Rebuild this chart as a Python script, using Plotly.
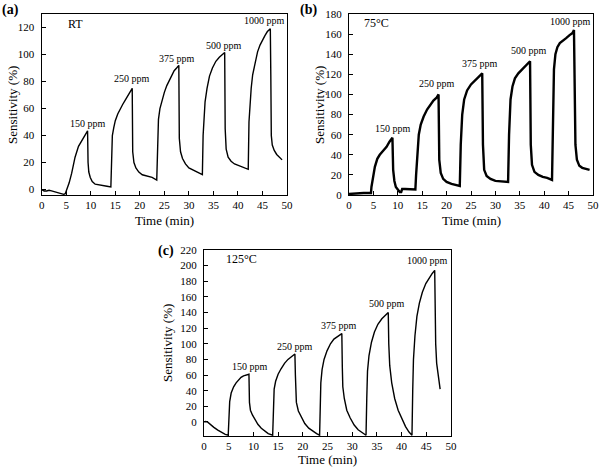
import plotly.graph_objects as go

# ---------------- data ----------------
# Panel (a) RT
time_a = [0, 0.5, 1, 1.5, 2, 2.5, 3, 3.5, 4, 4.5, 4.8,
          5.2, 5.6, 6.1, 6.8, 7.5, 8.0, 8.5, 9.0, 9.35,
          9.45, 9.6, 9.9, 10.3, 10.9, 11.5, 12.5, 13.3, 14.1,
          14.25, 14.4, 14.7, 15.0, 15.5, 16.0, 16.5, 17.0, 17.5, 18.0, 18.45,
          18.55, 18.8, 19.2, 19.8, 20.5, 21.5, 22.5, 23.45,
          23.65, 23.8, 24.1, 24.5, 25.0, 25.5, 26.0, 26.5, 27.0, 27.5, 27.95,
          28.05, 28.3, 28.7, 29.3, 30.0, 31.0, 32.0, 32.75,
          32.9, 33.05, 33.3, 33.7, 34.2, 34.8, 35.5, 36.2, 36.8, 37.3,
          37.4, 37.6, 38.0, 38.6, 39.3, 40.0, 40.8, 41.5, 42.1,
          42.25, 42.4, 42.7, 43.0, 43.5, 44.0, 44.5, 45.0, 45.5, 46.0, 46.6,
          46.7, 46.8, 47.0, 47.4, 47.9, 48.5, 49.0]
sens_a = [0, -1, -1, -0.5, -1, -1.5, -2, -2.5, -3, -3.5, -3,
          1, 5, 12, 24, 32, 35, 38, 41, 43.5,
          20, 13, 9, 6, 4, 3.5, 3, 2.5, 2,
          30, 40, 46, 51, 56, 60, 63, 66, 69, 72, 75,
          28, 20, 16, 13, 11, 10, 9, 7,
          40, 52, 60, 66, 72, 77, 81, 85, 88, 90, 92,
          38, 28, 23, 19, 16, 14, 12, 11,
          40, 55, 65, 75, 84, 90, 95, 98, 100, 101.5,
          45, 30, 24, 21, 19, 18, 17, 16, 15,
          50, 62, 75, 85, 95, 102, 107, 111, 114, 117, 119,
          85, 40, 33, 29, 26, 24, 22]

# Panel (b) 75 °C
time_b = [0, 1, 2, 3, 4, 4.5,
          4.6, 4.9, 5.3, 5.8, 6.3, 7.0, 7.7, 8.3, 8.9,
          9.05, 9.3, 9.6, 10.0, 10.4, 10.7,
          10.9, 11.5, 12.5, 13.6,
          13.75, 14.0, 14.3, 14.7, 15.3, 16.0, 16.7, 17.3, 18.0, 18.35,
          18.5, 18.8, 19.3, 20.0, 21.0, 22.0, 22.7,
          22.9, 23.2, 23.6, 24.2, 25.0, 25.8, 26.6, 27.3,
          27.45, 27.7, 28.2, 29.0, 30.0, 31.0, 32.0, 32.6,
          32.8, 33.1, 33.5, 34.0, 34.7, 35.5, 36.3, 37.1,
          37.25, 37.5, 38.0, 38.8, 39.7, 40.6, 41.6,
          41.8, 42.0, 42.3, 42.7, 43.2, 43.8, 44.5, 45.2, 45.8, 46.1,
          46.2, 46.4, 46.7, 47.2, 47.8, 48.5, 49.3]
sens_b = [1, 1.5, 1.5, 2, 2, 2,
          8, 18, 28, 36, 40, 44, 48, 53, 57,
          25, 14, 8, 5, 3, 3,
          6, 6, 5.5, 5.5,
          20, 40, 60, 70, 78, 85, 90, 94, 97, 100,
          35, 22, 16, 13, 11, 10, 9,
          50, 80, 95, 104, 110, 114, 117, 121,
          50, 25, 19, 16, 14, 13.5, 13, 13,
          60, 95, 108, 116, 121, 125, 129, 133,
          50, 30, 23, 20, 18, 17, 15,
          80, 125, 140, 147, 151, 153, 156, 159, 161, 164,
          90, 50, 35, 29, 27, 26, 25]

# Panel (c) 125 °C
time_c = [0, 0.3, 0.7, 1.2, 2.0, 2.8, 3.6, 4.3, 4.9,
          5.05, 5.2, 5.5, 6.0, 6.5, 7.0, 7.5, 8.0, 8.5, 9.1,
          9.2, 9.4, 9.8, 10.3, 10.9, 11.6, 12.3, 13.0, 13.9,
          14.0, 14.2, 14.5, 15.0, 15.6, 16.3, 17.0, 17.7, 18.4,
          18.5, 18.7, 19.1, 19.7, 20.4, 21.2, 22.0, 22.8, 23.4,
          23.5, 23.65, 23.9, 24.3, 24.9, 25.6, 26.3, 27.1, 27.9,
          28.0, 28.1, 28.4, 28.9, 29.6, 30.4, 31.2, 32.0, 32.8,
          32.95, 33.1, 33.4, 33.9, 34.5, 35.2, 36.0, 36.7, 37.3,
          37.4, 37.6, 38.0, 38.6, 39.3, 40.0, 40.8, 41.5, 42.1,
          42.25, 42.4, 42.7, 43.1, 43.6, 44.2, 44.9, 45.6, 46.2, 46.7,
          46.8, 46.9, 47.1, 47.4, 47.8]
sens_c = [0, 0.5, 0, -3, -7, -10.5, -13.5, -16, -17,
          10, 26, 37, 45, 50, 54, 57, 59, 60, 61,
          25, 15, 9, 3, -3, -8, -12, -15, -17,
          20, 42, 52, 61, 68, 75, 80, 84, 87,
          60, 25, 14, 6, -2, -8, -12, -15, -17,
          20, 50, 67, 80, 91, 100, 106, 110, 113,
          70, 45, 30, 15, 5, -4, -10, -14, -17,
          30, 65, 85, 102, 115, 125, 132, 137, 140,
          100, 72, 50, 30, 15, 4, -6, -13, -17,
          40, 80, 110, 135, 152, 166, 177, 185, 190, 194,
          140, 100, 75, 58, 42]

conc_labels = ["150 ppm", "250 ppm", "375 ppm", "500 ppm", "1000 ppm"]
label_x_a = [9.4, 18.5, 27.5, 37.1, 45.5]
label_y_a = [49, 82, 97, 107, 125]
label_x_b = [9.1, 18.1, 26.9, 36.9, 45.4]
label_y_b = [66, 111, 131, 144, 173]
label_x_c = [9.3, 18.4, 27.3, 37.1, 45.2]
label_y_c = [71, 97, 123, 152, 206]

panel_tags = ["(a)", "(b)", "(c)"]
temps = ["RT", "75°C", "125°C"]

FONT = "Liberation Serif"

fig = go.Figure()
fig.add_trace(go.Scatter(x=time_a, y=sens_a, mode="lines", line=dict(color="black", width=1.4),
                         xaxis="x", yaxis="y", showlegend=False))
fig.add_trace(go.Scatter(x=time_b, y=sens_b, mode="lines", line=dict(color="black", width=2.4),
                         xaxis="x2", yaxis="y2", showlegend=False))
fig.add_trace(go.Scatter(x=time_c, y=sens_c, mode="lines", line=dict(color="black", width=1.4),
                         xaxis="x3", yaxis="y3", showlegend=False))

W, H = 600, 467


def px(x):
    return x / W


def py(y):
    return 1 - y / H


common = dict(showgrid=False, zeroline=False, showline=True, linecolor="black", linewidth=1.3,
              mirror=True, ticks="inside", ticklen=4, tickwidth=1, tickcolor="black",
              automargin=False,
              tickfont=dict(family=FONT, size=11, color="black"))

xt = dict(tickmode="linear", tick0=0, dtick=5, range=[0, 50], ticklabelstandoff=0)

fig.update_layout(
    template="none",
    width=W, height=H, margin=dict(l=0, r=0, t=0, b=0, autoexpand=False),
    paper_bgcolor="white", plot_bgcolor="white",
    font=dict(family=FONT, color="black"),
    xaxis=dict(domain=[px(41.7), px(287)], anchor="y", **xt, **common),
    yaxis=dict(domain=[py(195), py(14)], anchor="x", range=[-4, 130], tickmode="array",
               tickvals=[0, 20, 40, 60, 80, 100, 120], ticklabelstandoff=4, **common),
    xaxis2=dict(domain=[px(349), px(593)], anchor="y2", **xt, **common),
    yaxis2=dict(domain=[py(195), py(14)], anchor="x2", range=[0, 180], tickmode="linear",
                tick0=0, dtick=20, ticklabelstandoff=4, **common),
    xaxis3=dict(domain=[px(204), px(451)], anchor="y3", **xt, **common),
    yaxis3=dict(domain=[py(436), py(250)], anchor="x3", range=[-18, 220], tickmode="linear",
                tick0=0, dtick=20, ticklabelstandoff=4, **common),
)

ann = []
for xs, ys, xr, yr in [(label_x_a, label_y_a, "x", "y"), (label_x_b, label_y_b, "x2", "y2"),
                       (label_x_c, label_y_c, "x3", "y3")]:
    for lab, x, y in zip(conc_labels, xs, ys):
        ann.append(dict(x=x, y=y, xref=xr, yref=yr, text=lab, showarrow=False,
                        font=dict(family=FONT, size=10, color="black"), xanchor="center", yanchor="middle"))

# temperature labels
ann.append(dict(x=6.8, y=122.5, xref="x", yref="y", text=temps[0], showarrow=False,
                font=dict(family=FONT, size=12, color="black")))
ann.append(dict(x=5.7, y=171, xref="x2", yref="y2", text=temps[1], showarrow=False,
                font=dict(family=FONT, size=12, color="black")))
ann.append(dict(x=7.6, y=209, xref="x3", yref="y3", text=temps[2], showarrow=False,
                font=dict(family=FONT, size=12, color="black")))

# panel tags
for tag, x, y in zip(panel_tags, [10, 308, 166], [10, 10, 251]):
    ann.append(dict(x=px(x), y=py(y), xref="paper", yref="paper", text="<b>" + tag + "</b>",
                    showarrow=False, font=dict(family=FONT, size=14, color="black"),
                    xanchor="center", yanchor="middle"))

# axis titles
for cx, cy in [(164, 220), (471, 220), (327, 459)]:
    ann.append(dict(x=px(cx), y=py(cy), xref="paper", yref="paper", text="Time (min)",
                    showarrow=False, font=dict(family=FONT, size=13, color="black"),
                    xanchor="center", yanchor="middle"))
for cx, cy in [(12, 105), (319, 105), (167, 343)]:
    ann.append(dict(x=px(cx), y=py(cy), xref="paper", yref="paper", text="Sensitivity (%)",
                    showarrow=False, textangle=-90, font=dict(family=FONT, size=13, color="black"),
                    xanchor="center", yanchor="middle"))

fig.update_layout(annotations=ann)
# remove the browser's default 8 px page margin so the 600x467 figure fills the window
fig.write_html("out.html", config={"displayModeBar": False},
               post_script="document.body.style.margin='0px';")
